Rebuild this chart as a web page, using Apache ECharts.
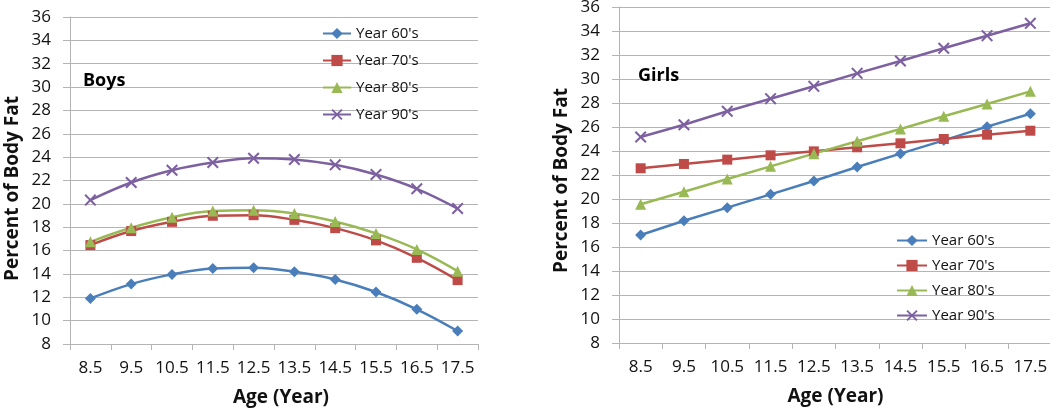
<!DOCTYPE html>
<html><head><meta charset="utf-8">
<script src="https://cdn.jsdelivr.net/npm/echarts@6/dist/echarts.min.js"></script>
<style>html,body{margin:0;padding:0;background:#fff}#c{width:1050px;height:409px}</style>
</head><body><div id="c"></div>
<script>
const ages = ['8.5','9.5','10.5','11.5','12.5','13.5','14.5','15.5','16.5','17.5'];
const seriesNames = ["Year 60's","Year 70's","Year 80's","Year 90's"];
const boys60 = [11.9,13.13,13.96,14.47,14.53,14.19,13.53,12.45,10.97,9.11];
const boys70 = [16.47,17.67,18.46,18.98,19.03,18.63,17.92,16.87,15.38,13.47];
const boys80 = [16.75,17.95,18.86,19.38,19.46,19.18,18.49,17.47,16.1,14.24];
const boys90 = [20.32,21.83,22.88,23.54,23.91,23.8,23.34,22.51,21.29,19.6];
const girls60 = [17.0,18.19,19.28,20.39,21.5,22.67,23.78,24.89,26.03,27.11];
const girls70 = [22.56,22.92,23.28,23.64,23.97,24.31,24.64,25.0,25.36,25.69];
const girls80 = [19.56,20.61,21.67,22.72,23.78,24.81,25.83,26.89,27.92,28.97];
const girls90 = [25.17,26.19,27.31,28.36,29.39,30.47,31.5,32.56,33.61,34.64];

const FONT = 'Open Sans';
const colors = ['#4A7EBB','#BE4B48','#98B954','#7D60A0'];
const xPath = 'path://M0,1.2L1.2,0L5,3.8L8.8,0L10,1.2L6.2,5L10,8.8L8.8,10L5,6.2L1.2,10L0,8.8L3.8,5Z';
const symbols = ['diamond','rect','triangle',xPath];
const symSizes = [11,10,11,12];
const gridColor = '#B4B4B4';

function xAx(gi, shift){
  return {type:'category', gridIndex:gi, data:ages, boundaryGap:true,
    axisLine:{lineStyle:{color:gridColor}}, axisTick:{show:true,length:6,interval:0,lineStyle:{color:gridColor}},
    axisLabel:{color:'#111',fontSize:17,fontFamily:FONT,margin:16,interval:0,hideOverlap:false},
    name:'Age (Year)', nameLocation:'middle', nameGap:44,
    nameTextStyle:{fontSize:19,fontWeight:'bold',color:'#111',fontFamily:FONT,padding:[0,0,0,shift]}};
}
function yAx(gi, shiftDown){
  return {type:'value', gridIndex:gi, min:8, max:36, interval:2,
    axisLine:{show:true,lineStyle:{color:gridColor}}, axisTick:{show:true,length:7,lineStyle:{color:gridColor}},
    splitLine:{lineStyle:{color:gridColor}},
    axisLabel:{color:'#111',fontSize:17,fontFamily:FONT,margin:19},
    name:'Percent of Body Fat', nameLocation:'middle', nameGap:48,
    nameTextStyle:{fontSize:19,fontWeight:'bold',color:'#111',fontFamily:FONT,padding:[0,shiftDown,0,0]}};
}
function mk(name,i,data,gi,smooth){
  return {name:name,type:'line',xAxisIndex:gi,yAxisIndex:gi,data:data,smooth:smooth,
    symbol:symbols[i],symbolSize:symSizes[i],showSymbol:true,
    lineStyle:{color:colors[i],width:2.5},itemStyle:{color:colors[i]},animation:false};
}
const boys=[boys60,boys70,boys80,boys90], girls=[girls60,girls70,girls80,girls90];
const series=[];
seriesNames.forEach((n,i)=>series.push(mk(n,i,boys[i],0,0.4)));
seriesNames.forEach((n,i)=>series.push(mk(n,i,girls[i],1,false)));

const chart = echarts.init(document.getElementById('c'),null,{renderer:'canvas'});
chart.setOption({
  animation:false,
  color:colors,
  title:[
    {text:'Boys',left:78,top:67,textStyle:{fontSize:18,fontWeight:'bold',color:'#000',fontFamily:FONT}},
    {text:'Girls',left:633,top:62,textStyle:{fontSize:18,fontWeight:'bold',color:'#000',fontFamily:FONT}}
  ],
  legend:[
    {orient:'vertical',left:317,top:21,itemWidth:28,itemHeight:14,itemGap:12,data:seriesNames,
      textStyle:{fontSize:15,color:'#111',fontFamily:FONT,lineHeight:14}},
    {orient:'vertical',left:891,top:228,itemWidth:30,itemHeight:14,itemGap:10,data:seriesNames,
      textStyle:{fontSize:15,color:'#111',fontFamily:FONT,lineHeight:14}}
  ],
  grid:[
    {left:70,right:572,top:17,bottom:65,outerBoundsMode:'none',containLabel:false},
    {left:619,right:-2,top:7,bottom:66,outerBoundsMode:'none',containLabel:false}
  ],
  xAxis:[xAx(0,14),xAx(1,0)],
  yAxis:[yAx(0,16),yAx(1,11)],
  series:series
});
</script></body></html>
